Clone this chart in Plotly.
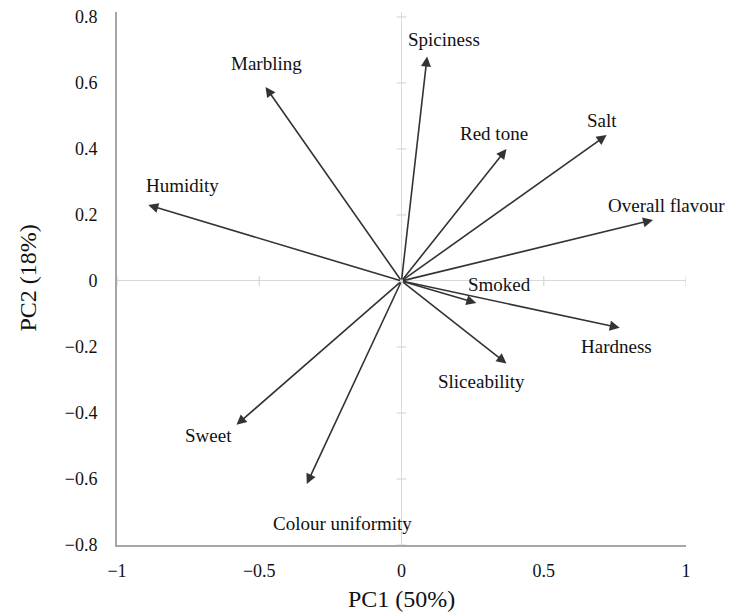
import plotly.graph_objects as go

variables = ["Spiciness", "Marbling", "Humidity", "Red tone", "Salt", "Overall flavour",
             "Smoked", "Hardness", "Sliceability", "Sweet", "Colour uniformity"]
pc1 = [0.09, -0.478, -0.89, 0.369, 0.721, 0.884, 0.263, 0.767, 0.369, -0.58, -0.333]
pc2 = [0.68, 0.588, 0.23, 0.40, 0.442, 0.185, -0.067, -0.142, -0.25, -0.436, -0.615]
label_x = [0.15, -0.475, -0.77, 0.325, 0.703, 0.933, 0.344, 0.757, 0.28, -0.679, -0.206]
label_y = [0.733, 0.658, 0.29, 0.448, 0.485, 0.23, -0.01, -0.2, -0.306, -0.467, -0.736]

x_ticks = [-1, -0.5, 0, 0.5, 1]
x_tick_text = ["\u22121", "\u22120.5", "0", "0.5", "1"]
y_ticks = [-0.8, -0.6, -0.4, -0.2, 0, 0.2, 0.4, 0.6, 0.8]
y_tick_text = ["\u22120.8", "\u22120.6", "\u22120.4", "\u22120.2", "0", "0.2", "0.4", "0.6", "0.8"]

FONT = "Liberation Serif"
ARROW = "#333333"
TXT = "#111111"

fig = go.Figure()

# small tick marks along the zero lines
fig.add_trace(go.Scatter(x=[0] * len(y_ticks), y=y_ticks, mode="markers",
                         marker=dict(symbol="line-ew-open", size=7, color="#d0d0d0", line=dict(width=1)),
                         hoverinfo="skip", showlegend=False))
fig.add_trace(go.Scatter(x=x_ticks, y=[0] * len(x_ticks), mode="markers",
                         marker=dict(symbol="line-ns-open", size=7, color="#d0d0d0", line=dict(width=1)),
                         hoverinfo="skip", showlegend=False))

for name, x, y, lx, ly in zip(variables, pc1, pc2, label_x, label_y):
    fig.add_annotation(x=x, y=y, ax=0, ay=0, xref="x", yref="y", axref="x", ayref="y",
                       showarrow=True, arrowhead=2, arrowsize=1.25, arrowwidth=1.6,
                       arrowcolor=ARROW, text="")
    fig.add_annotation(x=lx, y=ly, xref="x", yref="y", text=name, showarrow=False,
                       font=dict(family=FONT, size=19, color=TXT))

# axis titles
fig.add_annotation(xref="paper", yref="paper", x=0.5, y=0, xanchor="center", yanchor="top",
                   yshift=-39, text="PC1 (50%)", showarrow=False,
                   font=dict(family=FONT, size=24, color=TXT))
fig.add_annotation(xref="paper", yref="paper", x=0, y=0.5, xanchor="right", yanchor="middle",
                   xshift=-75, text="PC2 (18%)", textangle=-90, showarrow=False,
                   font=dict(family=FONT, size=24, color=TXT))

fig.update_layout(
    width=733, height=614,
    margin=dict(l=109, r=55, t=4, b=77),
    paper_bgcolor="white", plot_bgcolor="white",
    showlegend=False,
    font=dict(family=FONT, size=18, color=TXT),
    xaxis=dict(range=[-1, 1], tickvals=x_ticks, ticktext=x_tick_text, automargin=False,
               showgrid=False, zeroline=True, zerolinecolor="#d9d9d9", zerolinewidth=1,
               showline=True, linecolor="#a6a6a6", linewidth=2, mirror=False,
               ticks="", ticklen=0, ticklabelstandoff=8, ticklabeloverflow="allow",
               tickfont=dict(family=FONT, size=18, color=TXT)),
    yaxis=dict(range=[-0.8, 0.815], tickvals=y_ticks, ticktext=y_tick_text, automargin=False,
               showgrid=False, zeroline=True, zerolinecolor="#d9d9d9", zerolinewidth=1,
               showline=True, linecolor="#a6a6a6", linewidth=2,
               ticks="", ticklen=0, ticklabelstandoff=14, ticklabeloverflow="allow",
               tickfont=dict(family=FONT, size=18, color=TXT)),
)

fig.write_html("out.html")
